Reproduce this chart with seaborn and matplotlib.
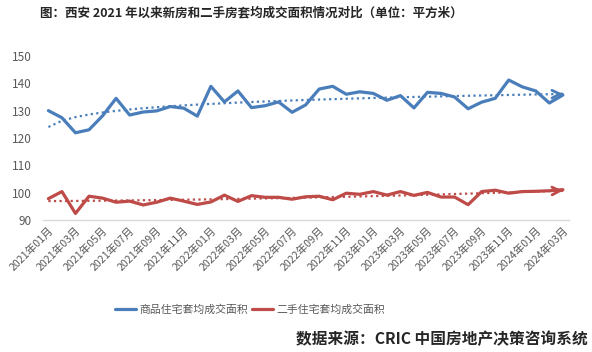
import numpy as np
import pandas as pd
import matplotlib
matplotlib.use('Agg')
import matplotlib.pyplot as plt
import seaborn as sns

# months 2021-01 .. 2024-03
months = [f'{y}年{m:02d}月' for y in (2021, 2022, 2023) for m in range(1, 13)] + \
         [f'2024年{m:02d}月' for m in (1, 2, 3)]

new_home = [130.0, 127.4, 121.9, 123.0, 128.1, 134.5, 128.4, 129.5, 129.9, 131.5,
            130.9, 128.0, 138.9, 133.2, 137.2, 131.1, 131.8, 133.2, 129.4, 132.1,
            137.9, 138.9, 136.0, 136.9, 136.3, 133.8, 135.5, 131.0, 136.7, 136.3,
            135.0, 130.7, 133.1, 134.5, 141.2, 138.7, 137.2, 132.8, 135.7]
second_hand = [97.8, 100.4, 92.4, 98.7, 98.0, 96.5, 96.9, 95.5, 96.5, 98.0,
               96.9, 95.7, 96.6, 99.1, 96.8, 98.9, 98.3, 98.3, 97.6, 98.5,
               98.7, 97.4, 99.8, 99.4, 100.4, 99.1, 100.4, 99.0, 100.1, 98.4,
               98.4, 95.6, 100.4, 100.9, 99.8, 100.4, 100.5, 100.7, 101.1]

series_names = ['商品住宅套均成交面积', '二手住宅套均成交面积']
colors = ['#4A7EBB', '#BE4B48']
trend_kind = ['log', 'poly2']   # Excel trendline types


def trendline(y, kind):
    x = np.arange(1, len(y) + 1)
    if kind == 'log':
        k, b = np.polyfit(np.log(x), y, 1)
        return k * np.log(x) + b
    return np.polyval(np.polyfit(x, y, 2), x)


df = pd.DataFrame({'month': months, 'idx': np.arange(len(months)),
                   series_names[0]: new_home, series_names[1]: second_hand})

sns.set_style('white')
plt.rcParams['font.family'] = ['Noto Sans CJK SC', 'DejaVu Sans']

fig = plt.figure(figsize=(5.92, 3.52), dpi=100)
ax = fig.add_axes([0.0726, 0.375, 0.8885, 0.466])

for name, c, kind in zip(series_names, colors, trend_kind):
    sns.lineplot(data=df, x='idx', y=name, color=c, lw=2.3, label=name, ax=ax)
    trend = trendline(df[name].values, kind)
    sns.lineplot(x=df['idx'], y=trend, color=c, lw=1.6, ls=(0, (1, 1.5)),
                 label='_nolegend_', ax=ax)
    x1 = df['idx'].iloc[-1]
    ax.annotate('', xy=(x1, trend[-1]),
                xytext=(x1 - 0.05, trend[-1] - 0.05 * (trend[-1] - trend[-2])),
                arrowprops=dict(arrowstyle='->', color=c, lw=2, mutation_scale=14))

ax.set_ylim(90, 150)
ax.set_xlim(-0.4, len(months) - 0.55)
ax.set_yticks(range(90, 151, 10))
ax.set_xticks(df['idx'][::2])
ax.set_xticklabels(df['month'][::2], rotation=45, ha='right', va='top',
                   rotation_mode='anchor', fontsize=7.7, color='#595959')
ax.tick_params(axis='y', labelsize=8.5, labelcolor='#595959', length=0, pad=8)
ax.tick_params(axis='x', length=0, pad=4)
ax.set_xlabel('')
ax.set_ylabel('')
for s in ['top', 'right', 'left']:
    ax.spines[s].set_visible(False)
ax.spines['bottom'].set_color('#D9D9D9')
ax.spines['bottom'].set_linewidth(1)

leg = ax.legend(loc='center', bbox_to_anchor=(250 / 592, 1 - 310 / 352),
                bbox_transform=fig.transFigure, ncol=2, frameon=False,
                fontsize=7.8, handlelength=2.0, columnspacing=0.3,
                handletextpad=0.3)
for t in leg.get_texts():
    t.set_color('#595959')

fig.text(40 / 592, 1 - 13 / 352,
         '图：西安 2021 年以来新房和二手房套均成交面积情况对比（单位：平方米）',
         ha='left', va='center', fontsize=9.0, fontweight='bold')
fig.text(588 / 592, 1 - 339 / 352, '数据来源：CRIC 中国房地产决策咨询系统',
         ha='right', va='center', fontsize=11.3, fontweight='bold')

fig.savefig('out.png', dpi=100)
